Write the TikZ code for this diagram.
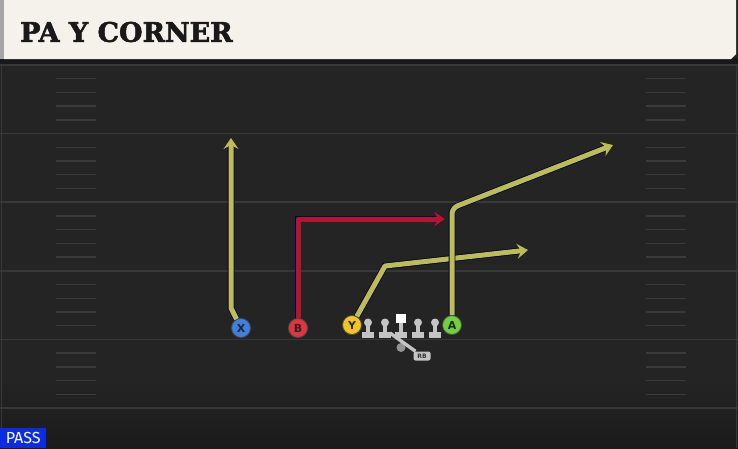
\documentclass[tikz,border=0pt]{standalone}
\usepackage{fontspec}
\setsansfont{DejaVu Sans}
\newfontfamily\titlefont{DejaVu Serif}[FakeBold=2]
\newfontfamily\tagfont{Fira Sans}
\usetikzlibrary{arrows.meta,positioning}

\definecolor{field}{HTML}{242424}
\definecolor{yardline}{HTML}{383838}
\definecolor{hashmark}{HTML}{3A3A3A}
\definecolor{banner}{HTML}{F4F2EB}
\definecolor{routeyellow}{HTML}{BDBD52}
\definecolor{routered}{HTML}{B3142F}
\definecolor{xblue}{HTML}{3F7FE3}
\definecolor{bred}{HTML}{E3333F}
\definecolor{yyellow}{HTML}{F2C521}
\definecolor{agreen}{HTML}{6FD23A}
\definecolor{oline}{HTML}{C4C4C4}
\definecolor{passblue}{HTML}{0B2CE3}

\begin{document}
\begin{tikzpicture}[x=1pt,y=-1pt,
    player/.style={circle,draw=black!70,line width=0.8pt,minimum size=19pt,inner sep=0pt,
      font=\sffamily\bfseries\fontsize{11}{11}\selectfont,text=black!85},
    route/.style={line width=5pt,line join=round,
      -{Stealth[length=11pt,width=15pt,inset=4pt]},
      preaction={draw=black!75!blue,line width=6.6pt}},
    yard/.style={draw=yardline,line width=1.6pt},
    hashline/.style={draw=hashmark,line width=1.4pt}]
  \useasboundingbox (0,0) rectangle (738,448);

  % field
  \fill[field] (0,0) rectangle (738,448);
  \shade[top color=field,bottom color=field!75!black] (0,380) rectangle (738,448);
  \draw[yardline,line width=1pt] (1.5,64) -- (1.5,448);
  \draw[yardline,line width=1pt] (736.5,64) -- (736.5,448);
  \foreach \i in {0,...,5}
    \draw[yard] (0,{65+68.6*\i}) -- (738,{65+68.6*\i});
  \foreach \i in {0,...,4}
    \foreach \k in {1,...,4} {
      \draw[hashline] (56,{65+68.6*\i+13.7*\k}) -- (96,{65+68.6*\i+13.7*\k});
      \draw[hashline] (646,{65+68.6*\i+13.7*\k}) -- (686,{65+68.6*\i+13.7*\k});
    }

  % banner
  \fill[black!90] (0,58) rectangle (738,64);
  \fill[gray!70] (0,0) rectangle (4,59);
  \fill[banner] (4,0) -- (736,0) -- (736,54) -- (731,59) -- (4,59) -- cycle;
  \node[anchor=west,inner sep=0pt,text=black!90,
    font=\titlefont\bfseries\fontsize{27}{27}\selectfont] (title) at (20,32) {PA Y CORNER};

  % line
  \foreach \x in {368,385,418,435} {
    \fill[oline] (\x,322.5) circle (4);
    \fill[oline] (\x-2,323) rectangle (\x+2,336);
    \fill[oline] (\x-6,332) rectangle (\x+6,337.5);
  }
  \fill[oline] (399,322) rectangle (403,336);
  \fill[oline] (395,332) rectangle (407,337.5);
  \fill[white] (396,313.5) rectangle (406,323);

  % running back
  \fill[oline!75!black] (401,347.5) circle (4.5);
  \coordinate (mesh) at (390,333);
  \node[fill=oline,rounded corners=2pt,inner sep=0pt,minimum width=17pt,minimum height=9pt,
    text=black!80,font=\sffamily\bfseries\fontsize{6}{6}\selectfont] (rb) at (422,356) {RB};
  \draw[oline,line width=3.4pt] (mesh) -- (rb);

  % players
  \node[player,fill=xblue] (X) at (241,328) {X};
  \node[player,fill=bred] (B) at (298,328) {B};
  \node[player,fill=yyellow] (Y) at (352,325) {Y};
  \node[player,fill=agreen] (A) at (452,325) {A};

  % routes
  \coordinate (x1) at (231,308);
  \coordinate (x2) at (231,138);
  \coordinate (b1) at (298,219);
  \coordinate (b2) at (445,219);
  \coordinate (y1) at (385,266);
  \coordinate (y2) at (528,250);
  \coordinate (a1) at (452,208);
  \coordinate (a2) at (613,145);

  \draw[route,routeyellow] (X) -- (x1) -- (x2);
  \draw[route,routered] (B) -- (b1) -- (b2);
  \draw[route,routeyellow] (Y) -- (y1) -- (y2);
  \draw[route,routeyellow,rounded corners=6pt] (A) -- (a1) -- (a2);

  % play type
  \node[fill=passblue,text=white,anchor=south west,inner sep=2pt,
    minimum width=46pt,minimum height=20pt,
    font=\tagfont\fontsize{16}{16}\selectfont] (mode) at (0,448) {PASS};
\end{tikzpicture}
\end{document}
